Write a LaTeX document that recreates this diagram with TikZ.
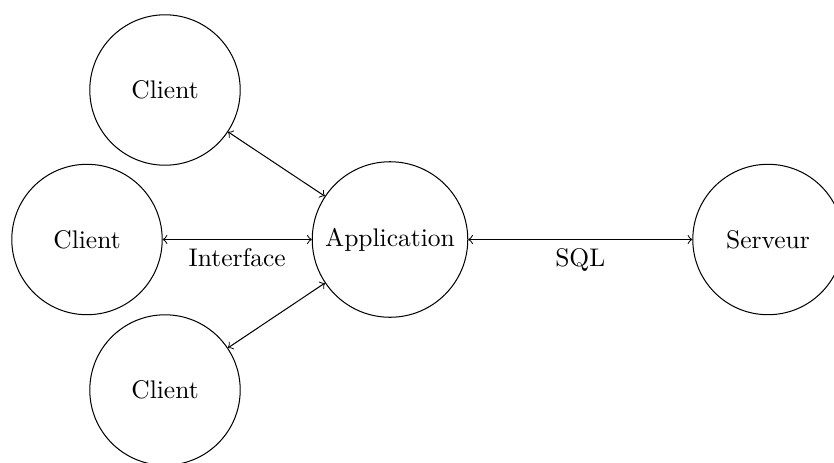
\documentclass[tikz,border=0pt]{standalone}
\begin{document}
\begin{tikzpicture}[>=to,x=0.3922pt,y=-0.3922pt,
	poste/.style={draw,circle,minimum size=59pt,inner sep=3pt}]
	\useasboundingbox (0,0) rectangle (834,462);
	\node[poste] (client1) at (165,90) {Client};
	\node[poste] (client2) at (87,239.5) {Client};
	\node[poste] (client3) at (165,390) {Client};
	\node[poste,minimum size=61pt] (app) at (390,239.5) {Application};
	\node[poste] (serveur) at (768,239.5) {Serveur};
	\draw[<->] (client1) -- (app);
	\draw[<->] (client2) -- node[below] {Interface} (app);
	\draw[<->] (client3) -- (app);
	\draw[<->] (app) -- node[below] {SQL} (serveur);
\end{tikzpicture}
\end{document}
